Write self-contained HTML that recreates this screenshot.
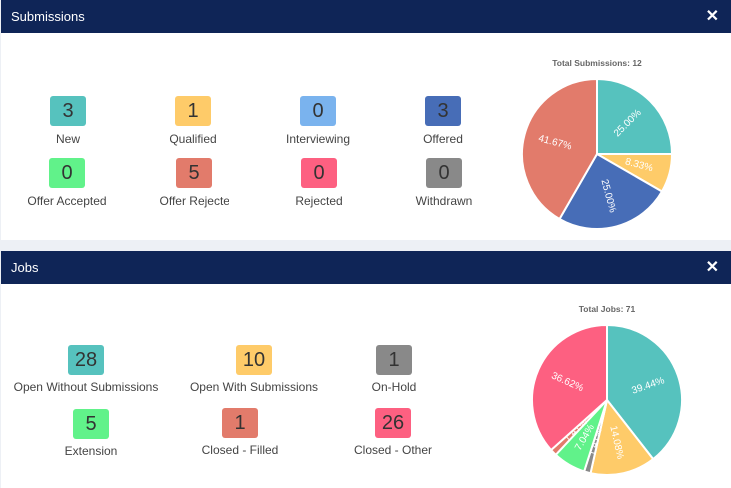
<!DOCTYPE html>
<html><head><meta charset="utf-8"><style>
body{margin:0;width:731px;height:488px;background:#edf0f5;position:relative;overflow:hidden;font-family:"Liberation Sans",sans-serif}
.panel{position:absolute;left:1px;width:730px;background:#fff}
.hdr{position:absolute;left:0;right:0;top:0;height:33px;background:#0f2557;color:#fff;font-size:13px;line-height:33px;padding-left:10px}
.x{position:absolute;right:12px;top:0;font-size:16px;font-weight:bold}
.box{position:absolute;width:36px;height:30px;border-radius:3px;color:#333;font-size:20px;line-height:30px;text-align:center}
.lbl{position:absolute;font-size:12px;color:#444;text-align:center;white-space:nowrap;width:160px}
.t{position:absolute;font-size:8.5px;font-weight:bold;color:#666;text-align:center;width:200px}
</style></head><body>
<div class="panel" style="top:0;height:240px"><div class="hdr">Submissions<span class="x">✕</span></div></div>
<div class="panel" style="top:251px;height:237px"><div class="hdr">Jobs<span class="x">✕</span></div></div>
<div id="c"></div>
<div class="t" style="left:497px;top:58px">Total Submissions: 12</div>
<div class="t" style="left:507px;top:304px">Total Jobs: 71</div>
<svg width="731" height="488" style="position:absolute;left:0;top:0" id="s"></svg>
<script>
var c=document.getElementById('c'),h='';
function item(cx,by,ly,n,col,l,clip){h+='<div class="box" style="left:'+(cx-18)+'px;top:'+by+'px;background:'+col+'">'+n+'</div>';
h+='<div class="lbl" style="left:'+(cx-80)+'px;top:'+ly+'px">'+(clip?'<span style="display:inline-block;overflow:hidden;vertical-align:top;width:69px;text-align:left">'+l+'</span>':l)+'</div>';}
item(68,96,131.5,3,'#56c2be','New');item(193,96,131.5,1,'#fecb69','Qualified');item(318,96,131.5,0,'#7ab3ee','Interviewing');item(443,96,131.5,3,'#476db7','Offered');
item(67,158,193.5,0,'#61f28a','Offer Accepted');item(194,158,193.5,5,'#e27b6b','Offer Rejected',1);item(319,158,193.5,0,'#fd6081','Rejected');item(444,158,193.5,0,'#898989','Withdrawn');
item(86,345,379.5,28,'#56c2be','Open Without Submissions');item(254,345,379.5,10,'#fecb69','Open With Submissions');item(394,345,379.5,1,'#898989','On-Hold');
item(91,409,443.5,5,'#61f28a','Extension');item(240,408,442.5,1,'#e27b6b','Closed - Filled');item(393,408,442.5,26,'#fd6081','Closed - Other');
c.innerHTML=h;
var s='';
function pie(cx,cy,r,data){var a=0;data.forEach(function(d){var v=d[0],a2=a+v*3.6;
function p(ang,rr){var t=(ang-90)*Math.PI/180;return [cx+rr*Math.cos(t),cy+rr*Math.sin(t)];}
var p1=p(a,r),p2=p(a2,r);s+='<path d="M'+cx+','+cy+'L'+p1[0]+','+p1[1]+'A'+r+','+r+' 0 '+(v>50?1:0)+' 1 '+p2[0]+','+p2[1]+'Z" fill="'+d[1]+'" stroke="#fff" stroke-width="2"/>';
var m=(a+a2)/2,lp=p(m,r*0.58),rot=m-270;while(rot>90)rot-=180;while(rot<=-90)rot+=180;
s+='<text x="'+lp[0]+'" y="'+lp[1]+'" fill="#fff" font-size="10" text-anchor="middle" dominant-baseline="middle" font-family="Liberation Sans" transform="rotate('+rot+' '+lp[0]+' '+lp[1]+')">'+v.toFixed(2)+'%</text>';a=a2;});}
pie(597,154,75,[[25,'#56c2be'],[8.33,'#fecb69'],[25,'#476db7'],[41.67,'#e27b6b']]);
pie(607,400,75,[[39.44,'#56c2be'],[14.08,'#fecb69'],[1.41,'#898989'],[7.04,'#61f28a'],[1.41,'#e27b6b'],[36.62,'#fd6081']]);
document.getElementById('s').innerHTML=s;
</script>
</body></html>
